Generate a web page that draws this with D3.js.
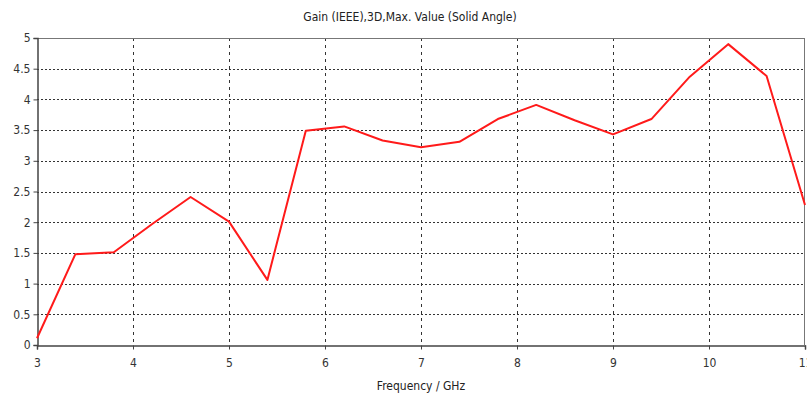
<!DOCTYPE html>
<html>
<head>
<meta charset="utf-8">
<script src="https://cdn.jsdelivr.net/npm/d3@7"></script>
<style>
  body { margin: 0; background: #fff; }
  text { font-family: "DejaVu Sans Condensed", "DejaVu Sans", sans-serif; fill: #222; }
</style>
</head>
<body>
<div id="chart"></div>
<script>
// data
var freqs = [3, 3.4, 3.8, 4.2, 4.6, 5, 5.4, 5.8, 6.2, 6.6, 7, 7.4, 7.8, 8.2, 8.6, 9, 9.4, 9.8, 10.2, 10.6, 11];
var gains = [0.11, 1.48, 1.51, 1.97, 2.41, 2.01, 1.06, 3.49, 3.56, 3.33, 3.22, 3.31, 3.68, 3.91, 3.66, 3.43, 3.68, 4.37, 4.9, 4.38, 2.28];
var xTicks = [3, 4, 5, 6, 7, 8, 9, 10, 11];
var yTicks = [0, 0.5, 1, 1.5, 2, 2.5, 3, 3.5, 4, 4.5, 5];

var width = 807, height = 394;
var margin = { top: 38, right: 2, bottom: 49, left: 37 };

var svg = d3.select('#chart').append('svg')
  .attr('width', width)
  .attr('height', height);

var x = d3.scaleLinear().domain([3, 11]).range([margin.left, width - margin.right]);
var y = d3.scaleLinear().domain([0, 5]).range([height - margin.bottom, margin.top]);

// grid lines
svg.append('g').selectAll('line.h')
  .data(yTicks.slice(1, -1))
  .enter().append('line')
  .attr('x1', x(3)).attr('x2', x(11))
  .attr('y1', function (d) { return Math.round(y(d)) + 0.5; })
  .attr('y2', function (d) { return Math.round(y(d)) + 0.5; })
  .attr('stroke', '#333').attr('stroke-width', 1)
  .attr('stroke-dasharray', '2,2');

svg.append('g').selectAll('line.v')
  .data(xTicks.slice(1, -1))
  .enter().append('line')
  .attr('x1', function (d) { return Math.round(x(d)) + 0.5; })
  .attr('x2', function (d) { return Math.round(x(d)) + 0.5; })
  .attr('y1', y(5)).attr('y2', y(0))
  .attr('stroke', '#333').attr('stroke-width', 1)
  .attr('stroke-dasharray', '3,4');

// frame top/right
svg.append('line')
  .attr('x1', x(3)).attr('x2', x(11))
  .attr('y1', Math.round(y(5)) + 0.5).attr('y2', Math.round(y(5)) + 0.5)
  .attr('stroke', '#777');
svg.append('line')
  .attr('x1', Math.round(x(11)) - 0.5).attr('x2', Math.round(x(11)) - 0.5)
  .attr('y1', y(5)).attr('y2', y(0))
  .attr('stroke', '#777');

// axes
var xAxis = d3.axisBottom(x).tickValues(xTicks).tickSize(4).tickPadding(9).tickFormat(d3.format('d'));
var yAxis = d3.axisLeft(y).tickValues(yTicks).tickSize(4).tickPadding(3).tickFormat(function (d) { return String(d); });

var gx = svg.append('g')
  .attr('transform', 'translate(0,' + (Math.round(y(0)) + 0.5) + ')')
  .call(xAxis);
var gy = svg.append('g')
  .attr('transform', 'translate(' + (Math.round(x(3)) + 0.5) + ',0)')
  .call(yAxis);

[gx, gy].forEach(function (g) {
  g.select('.domain').attr('stroke', '#444').attr('stroke-width', 1.5);
  g.selectAll('.tick line').attr('stroke', '#444');
  g.selectAll('.tick text').attr('font-size', 12).style('fill', '#333')
    .attr('font-family', '"DejaVu Sans Condensed", "DejaVu Sans", sans-serif');
});

// the curve
var line = d3.line()
  .x(function (d, i) { return x(freqs[i]); })
  .y(function (d) { return y(d); });

svg.append('path')
  .datum(gains)
  .attr('d', line)
  .attr('fill', 'none')
  .attr('stroke', '#ff1a1a')
  .attr('stroke-width', 2)
  .attr('stroke-linejoin', 'round');

// titles
svg.append('text')
  .attr('x', 410).attr('y', 21)
  .attr('text-anchor', 'middle')
  .attr('font-size', 12)
  .text('Gain (IEEE),3D,Max. Value (Solid Angle)');

svg.append('text')
  .attr('x', 421).attr('y', 390)
  .attr('text-anchor', 'middle')
  .attr('font-size', 12)
  .text('Frequency / GHz');
</script>
</body>
</html>
